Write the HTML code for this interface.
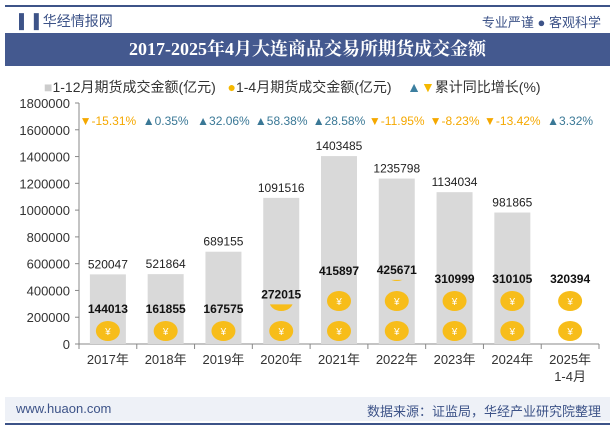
<!DOCTYPE html>
<html><head><meta charset="utf-8"><style>
body{margin:0;width:615px;height:427px;background:#fff;font-family:"Liberation Sans","Noto Sans CJK SC",sans-serif;overflow:hidden;position:relative}
.a{position:absolute}
</style></head><body>
<div class="a" style="left:5px;top:5px;width:605px;height:2px;background:#3d5388"></div>
<div class="a" style="left:19px;top:11px;font-size:14px;color:#3d5388">▌▐ <span style="color:#3d5388">华经情报网</span></div>
<div class="a" style="right:14px;top:12px;font-size:13px;color:#3d5388">专业严谨 ● 客观科学</div>
<div class="a" style="left:5px;top:33px;width:605px;height:33px;background:#44598f;color:#fff;font-family:'Liberation Serif','Noto Serif CJK SC',serif;font-weight:bold;font-size:18px;line-height:33px;text-align:center">2017-2025年4月大连商品交易所期货成交金额</div>
<div class="a" style="left:44px;top:77px;font-size:14px;color:#333;white-space:nowrap">
<span><span style="color:#ccc">■</span>1-12月期货成交金额(亿元)</span>&nbsp;&nbsp;
<span><span style="color:#f5b800">●</span>1-4月期货成交金额(亿元)</span>&nbsp;&nbsp;&nbsp;
<span><span style="color:#3c7fa0">▲</span><span style="color:#f5b800">▼</span>累计同比增长(%)</span></div>
<svg class="a" style="left:0;top:0" width="615" height="427" id="svg"></svg>
<div class="a" style="left:5px;top:397px;width:605px;height:24px;background:#eef1f7"></div>
<div class="a" style="left:16px;top:401px;font-size:13px;color:#3d5388">www.huaon.com</div>
<div class="a" style="right:14px;top:401px;font-size:13px;color:#3d5388">数据来源：证监局，华经产业研究院整理</div>
<div class="a" style="left:5px;top:423px;width:605px;height:2px;background:#3d5388"></div>
<script>
const categories=["2017年","2018年","2019年","2020年","2021年","2022年","2023年","2024年","2025年"];
const annual=[520047,521864,689155,1091516,1403485,1235798,1134034,981865,null];
const janApr=[144013,161855,167575,272015,415897,425671,310999,310105,320394];
const growth=[-15.31,0.35,32.06,58.38,28.58,-11.95,-8.23,-13.42,3.32];
const yTicks=[0,200000,400000,600000,800000,1000000,1200000,1400000,1600000,1800000];
const svg=document.getElementById('svg');const NS='http://www.w3.org/2000/svg';
const x0=79,x1=599,yb=344,yt=103,yMax=1800000;
const step=(x1-x0)/categories.length;
const y=v=>yb-(v/yMax)*(yb-yt);
const cx=i=>x0+step*(i+0.5);
function el(t,a,txt){const e=document.createElementNS(NS,t);for(const k in a)e.setAttribute(k,a[k]);if(txt!=null)e.textContent=txt;svg.appendChild(e);return e;}
let ax=el('line',{x1:x0,y1:yt,x2:x0,y2:yb,stroke:'#888'});

let bx=el('line',{x1:x0,y1:yb,x2:x1,y2:yb,stroke:'#888'});

yTicks.forEach(t=>{const l=el('line',{x1:x0-4,y1:y(t),x2:x0,y2:y(t),stroke:'#888'});

const tx=el('text',{x:x0-9,y:y(t)+5,'text-anchor':'end','font-size':13,fill:'#333'},t);
});
for(let i=0;i<=categories.length;i++){const l=el('line',{x1:x0+step*i,y1:yb,x2:x0+step*i,y2:yb+5,stroke:'#888'});
}
const U=200000,ph=30;
categories.forEach((c,i)=>{
 const t=el('text',{x:cx(i),y:yb+20,'text-anchor':'middle','font-size':13,fill:'#333'},c);
 
 if(i==categories.length-1){const t2=el('text',{x:cx(i),y:yb+37,'text-anchor':'middle','font-size':13,fill:'#333'},'1-4月');
 }
 if(annual[i]!=null){
  const r=el('rect',{x:cx(i)-18,y:y(annual[i]),width:36,height:yb-y(annual[i]),fill:'#d9d9d9'});
  
  const lb=el('text',{x:cx(i),y:y(annual[i])-6,'text-anchor':'middle','font-size':12,fill:'#222'},annual[i]);
  
 }
 const n=janApr[i]/U;const full=Math.max(1,Math.round(n));const fr=n-Math.floor(n);
 const partial=(fr>0.02&&fr<0.5&&n>1)?fr:0;
 const cnt=full+(partial?1:0);
 for(let k=0;k<cnt;k++){
  const f=k<full?1:partial;const py=yb-ph*(k+1)+5;
  const cp='c'+i+'_'+k;
  const d=el('clipPath',{id:cp});const cr=document.createElementNS(NS,'rect');
  cr.setAttribute('x',cx(i)-20);cr.setAttribute('y',py+24*(1-f));cr.setAttribute('width',40);cr.setAttribute('height',24*f);d.appendChild(cr);
  const e1=el('ellipse',{cx:cx(i),cy:py+12,rx:12,ry:10,fill:'#f7bd1a','clip-path':`url(#${cp})`});
  
  if(f>0.6){const yt2=el('text',{x:cx(i),y:py+16,'text-anchor':'middle','font-size':10,fill:'#fff'},'¥');
  }
 }
 const top=yb-ph*full+5-(partial?24*partial+6:0);
 const vl=el('text',{x:cx(i),y:top-6,'text-anchor':'middle','font-size':12,'font-weight':'bold',fill:'#111'},janApr[i]);
 
 const up=growth[i]>=0;
 const gl=el('text',{x:cx(i),y:125,'text-anchor':'middle','font-size':12,fill:up?'#3a7896':'#f5a800'},(up?'▲':'▼')+growth[i].toFixed(2)+'%');
 
});
</script>
</body></html>
